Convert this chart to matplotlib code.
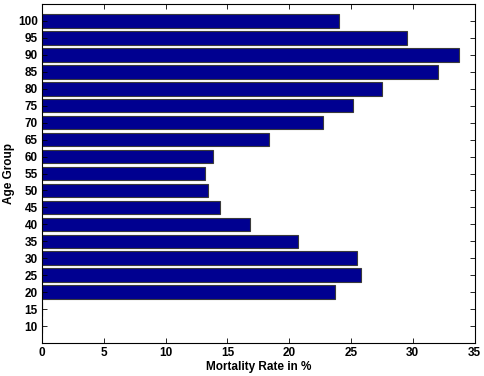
import matplotlib
matplotlib.use("Agg")
import matplotlib.pyplot as plt

age_groups = [10, 15, 20, 25, 30, 35, 40, 45, 50, 55, 60, 65, 70, 75, 80, 85, 90, 95, 100]
mortality = [0, 0, 23.7, 25.8, 25.5, 20.7, 16.8, 14.4, 13.4, 13.2, 13.8, 18.4, 22.7, 25.2, 27.5, 32.0, 33.7, 29.5, 24.0]
x_ticks = [0, 5, 10, 15, 20, 25, 30, 35]

plt.rcParams['font.family'] = ['Liberation Sans', 'DejaVu Sans']
plt.rcParams['font.weight'] = 'bold'

fig = plt.figure(figsize=(4.85, 3.76), dpi=100)
ax = fig.add_axes([0.0866, 0.0878, 0.892, 0.9015])
ax.barh(age_groups, mortality, height=4.0, color='#000090', edgecolor='#3a3a3a', linewidth=0.8)
ax.set_xlim(0, 35)
ax.set_ylim(5, 105)
ax.set_xticks(x_ticks)
ax.set_yticks(age_groups)
ax.tick_params(direction='in', top=True, right=True, labelsize=8.5, length=3.5, width=0.6, pad=3)
for lab in ax.get_xticklabels() + ax.get_yticklabels():
    lab.set_fontweight('bold')
ax.set_xlabel('Mortality Rate in %', fontsize=8.5, fontweight='bold', labelpad=1)
ax.set_ylabel('Age Group', fontsize=8.5, fontweight='bold', labelpad=2)
for s in ax.spines.values():
    s.set_linewidth(0.8)
fig.savefig('out.png', dpi=100)
